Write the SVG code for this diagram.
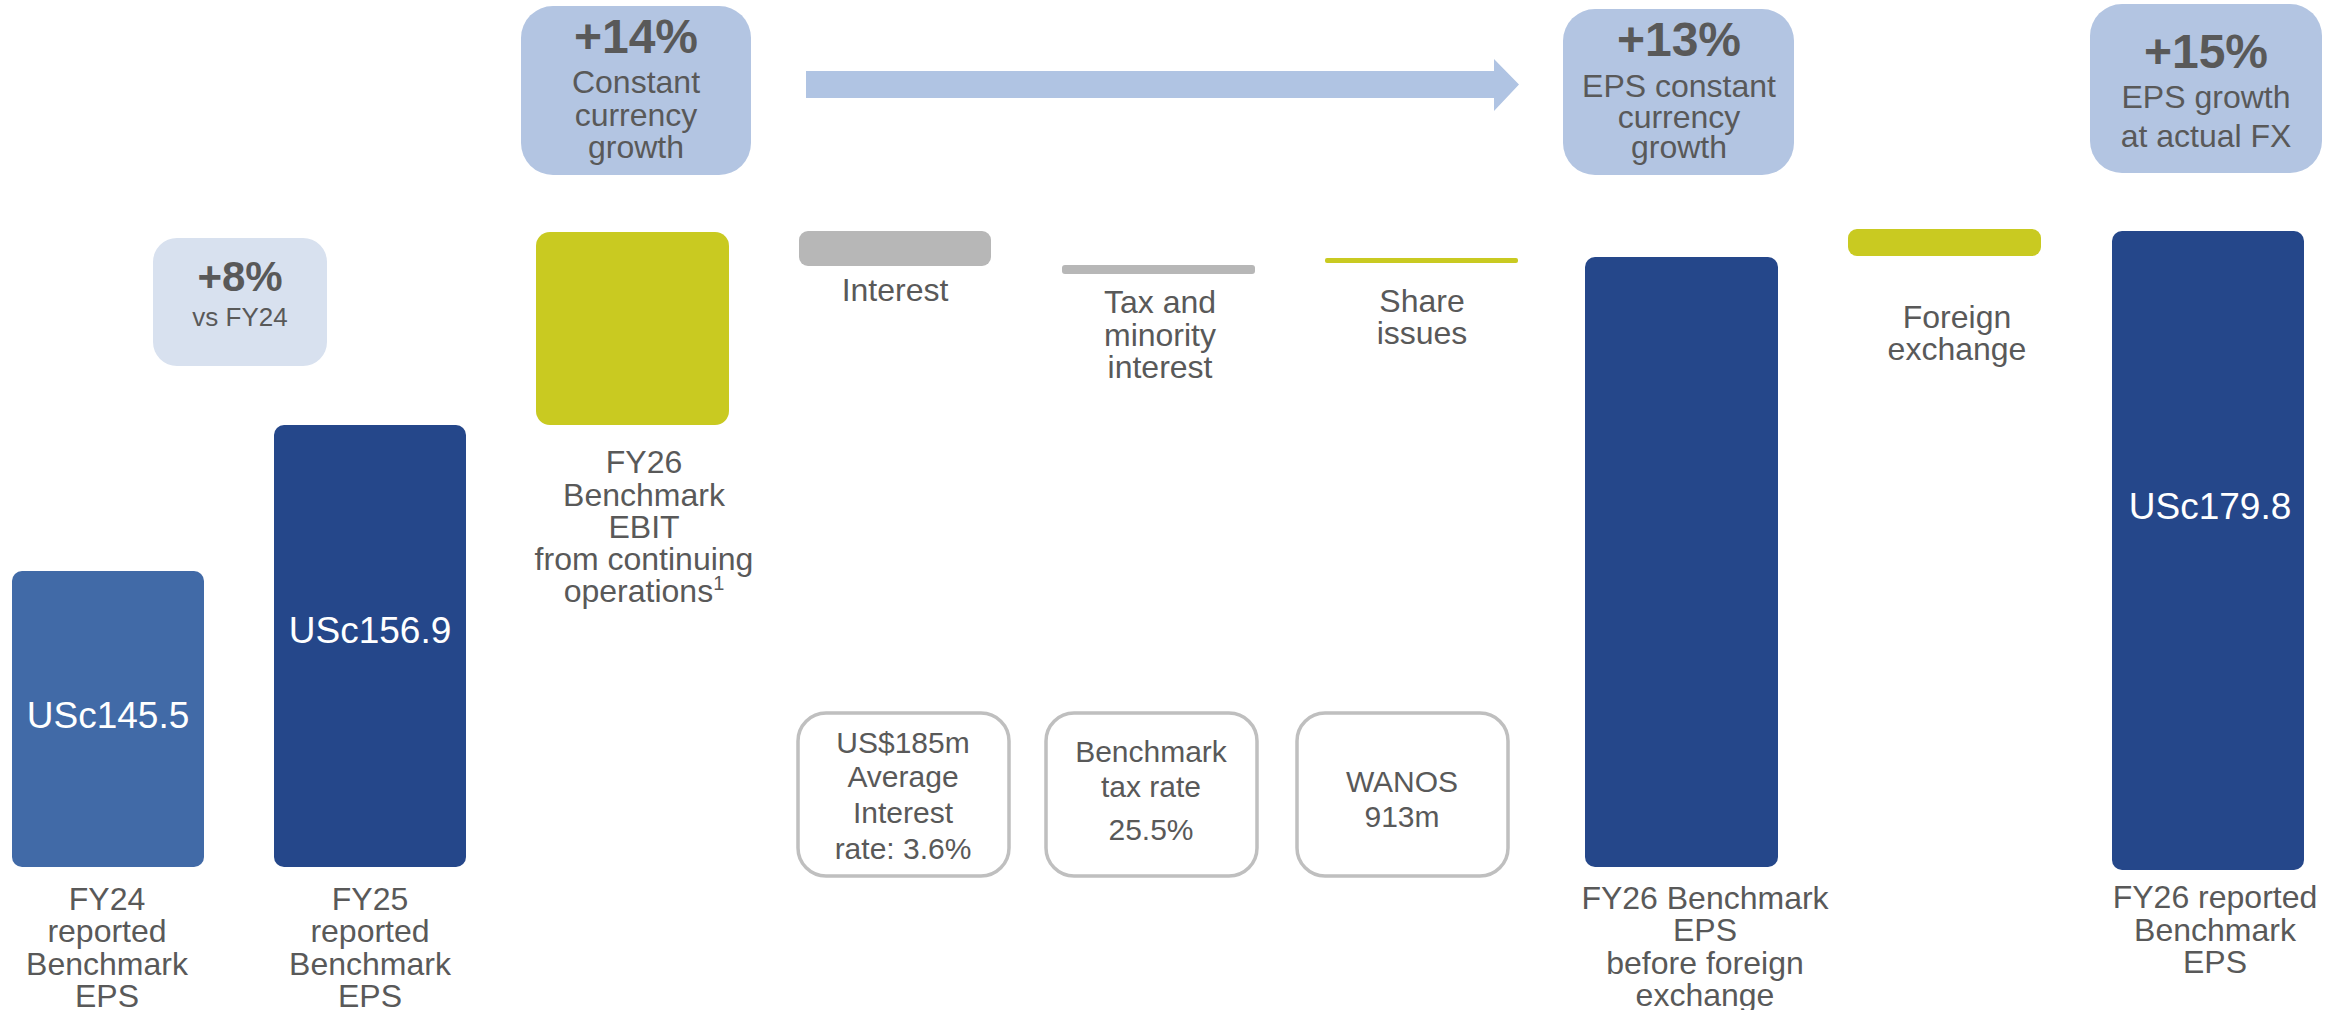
<svg xmlns="http://www.w3.org/2000/svg" width="2346" height="1010" viewBox="0 0 2346 1010">
<style>
.t{font-family:"Liberation Sans",Arial,sans-serif;fill:#595959;text-anchor:middle}
.lbl{font-size:32px}
.bx{font-size:30px}
.pct{font-size:48px;font-weight:bold}
.val{font-size:37px;fill:#ffffff}
.dark{fill:#25478a}
.green{fill:#c9ca21}
.grey{fill:#b7b7b7}
.blue{fill:#b3c5e2}
.info{fill:#ffffff;stroke:#bfbfbf;stroke-width:3.5}
</style>
<rect width="2346" height="1010" fill="#ffffff"/>
<g id="connectors">
<polygon points="806,71 1494,71 1494,59 1519,84.5 1494,111 1494,98 806,98" fill="#b0c4e3"/>
</g>
<g id="fy24">
<rect x="12" y="571" width="192" height="296" rx="10" fill="#416aa7"/>
<text class="t val" x="108" y="728">USc145.5</text>
<text class="t lbl" x="107" y="910">FY24</text>
<text class="t lbl" x="107" y="942">reported</text>
<text class="t lbl" x="107" y="975">Benchmark</text>
<text class="t lbl" x="107" y="1007">EPS</text>
</g>
<g id="growth8">
<rect x="153" y="238" width="174" height="128" rx="24" fill="#d8e1ef"/>
<text class="t" x="240" y="291" style="font-size:42px;font-weight:bold">+8%</text>
<text class="t" x="240" y="326" style="font-size:26px">vs FY24</text>
</g>
<g id="fy25">
<rect class="dark" x="274" y="425" width="192" height="442" rx="10"/>
<text class="t val" x="370" y="643">USc156.9</text>
<text class="t lbl" x="370" y="910">FY25</text>
<text class="t lbl" x="370" y="942">reported</text>
<text class="t lbl" x="370" y="975">Benchmark</text>
<text class="t lbl" x="370" y="1007">EPS</text>
</g>
<g id="growth14">
<rect class="blue" x="521" y="6" width="230" height="169" rx="32"/>
<text class="t pct" x="636" y="53">+14%</text>
<text class="t lbl" x="636" y="93">Constant</text>
<text class="t lbl" x="636" y="126">currency</text>
<text class="t lbl" x="636" y="158">growth</text>
</g>
<g id="ebit">
<rect class="green" x="536" y="232" width="193" height="193" rx="14"/>
<text class="t lbl" x="644" y="473">FY26</text>
<text class="t lbl" x="644" y="506">Benchmark</text>
<text class="t lbl" x="644" y="538">EBIT</text>
<text class="t lbl" x="644" y="570">from continuing</text>
<text class="t lbl" x="644" y="602">operations<tspan dy="-12" style="font-size:20px">1</tspan></text>
</g>
<g id="interest">
<rect class="grey" x="799" y="231" width="192" height="35" rx="9"/>
<text class="t lbl" x="895" y="301">Interest</text>
</g>
<g id="tax">
<rect class="grey" x="1062" y="265" width="193" height="9" rx="3"/>
<text class="t lbl" x="1160" y="313">Tax and</text>
<text class="t lbl" x="1160" y="346">minority</text>
<text class="t lbl" x="1160" y="378">interest</text>
</g>
<g id="share">
<rect class="green" x="1325" y="258" width="193" height="5" rx="2"/>
<text class="t lbl" x="1422" y="312">Share</text>
<text class="t lbl" x="1422" y="344">issues</text>
</g>
<g id="info-interest">
<rect class="info" x="798" y="713" width="211" height="163" rx="28"/>
<text class="t bx" x="903" y="753">US$185m</text>
<text class="t bx" x="903" y="787">Average</text>
<text class="t bx" x="903" y="823">Interest</text>
<text class="t bx" x="903" y="859">rate: 3.6%</text>
</g>
<g id="info-tax">
<rect class="info" x="1046" y="713" width="211" height="163" rx="28"/>
<text class="t bx" x="1151" y="762">Benchmark</text>
<text class="t bx" x="1151" y="797">tax rate</text>
<text class="t bx" x="1151" y="840">25.5%</text>
</g>
<g id="info-wanos">
<rect class="info" x="1297" y="713" width="211" height="163" rx="28"/>
<text class="t bx" x="1402" y="792">WANOS</text>
<text class="t bx" x="1402" y="827">913m</text>
</g>
<g id="growth13">
<rect class="blue" x="1563" y="9" width="231" height="166" rx="32"/>
<text class="t pct" x="1679" y="56">+13%</text>
<text class="t lbl" x="1679" y="97">EPS constant</text>
<text class="t lbl" x="1679" y="128">currency</text>
<text class="t lbl" x="1679" y="158">growth</text>
</g>
<g id="fy26-before-fx">
<rect class="dark" x="1585" y="257" width="193" height="610" rx="10"/>
<text class="t lbl" x="1705" y="909">FY26 Benchmark</text>
<text class="t lbl" x="1705" y="941">EPS</text>
<text class="t lbl" x="1705" y="974">before foreign</text>
<text class="t lbl" x="1705" y="1006">exchange</text>
</g>
<g id="fx">
<rect class="green" x="1848" y="229" width="193" height="27" rx="9"/>
<text class="t lbl" x="1957" y="328">Foreign</text>
<text class="t lbl" x="1957" y="360">exchange</text>
</g>
<g id="growth15">
<rect class="blue" x="2090" y="4" width="232" height="169" rx="32"/>
<text class="t pct" x="2206" y="68">+15%</text>
<text class="t lbl" x="2206" y="108">EPS growth</text>
<text class="t lbl" x="2206" y="147">at actual FX</text>
</g>
<g id="fy26-reported">
<rect class="dark" x="2112" y="231" width="192" height="639" rx="10"/>
<text class="t val" x="2210" y="519">USc179.8</text>
<text class="t lbl" x="2215" y="908">FY26 reported</text>
<text class="t lbl" x="2215" y="941">Benchmark</text>
<text class="t lbl" x="2215" y="973">EPS</text>
</g>
</svg>
